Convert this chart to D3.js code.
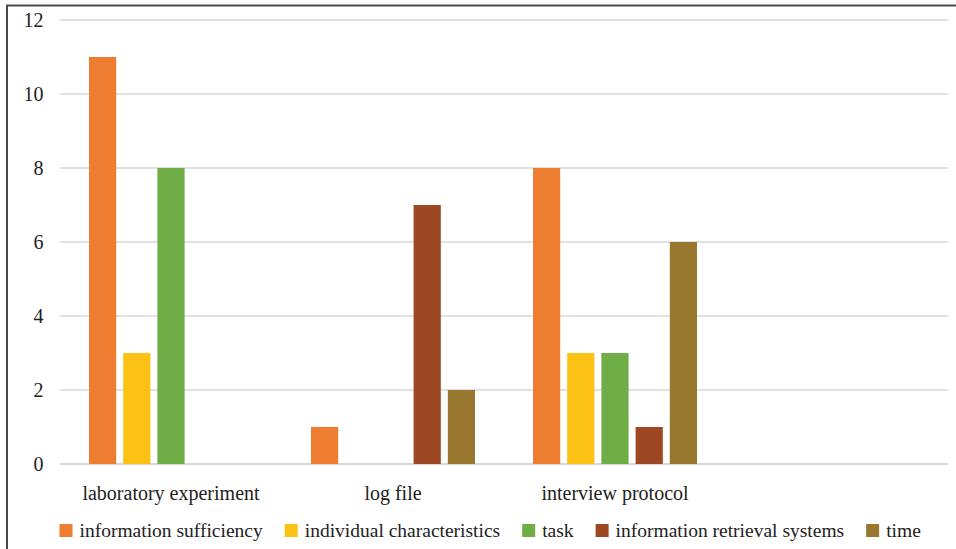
<!DOCTYPE html>
<html>
<head>
<meta charset="utf-8">
<script src="https://cdn.jsdelivr.net/npm/d3@7"></script>
<style>
  html, body { margin: 0; padding: 0; background: #fff; }
  svg { display: block; }
</style>
</head>
<body>
<svg id="chart" width="956" height="549"></svg>
<script>
// Categories (the fourth slot is intentionally empty)
const categories = ["laboratory experiment", "log file", "interview protocol", ""];
const seriesNames = ["information sufficiency", "individual characteristics", "task", "information retrieval systems", "time"];
const seriesColors = ["#ED7D31", "#FCC115", "#70AD47", "#9E4723", "#98772E"];

// Values per series, aligned with categories (null = no bar)
const informationSufficiency = [11, 1, 8, null];
const individualCharacteristics = [3, null, 3, null];
const task = [8, null, 3, null];
const informationRetrievalSystems = [null, 7, 1, null];
const time = [null, 2, 6, null];

const yTicks = [0, 2, 4, 6, 8, 10, 12];

const seriesValues = [informationSufficiency, individualCharacteristics, task, informationRetrievalSystems, time];

const FONT = "'Liberation Serif'";
const TEXT_COLOR = "#222";
const svg = d3.select("#chart");
const W = 956, H = 549;
const plot = { left: 60, right: 948, top: 20, bottom: 464 };

// Frame lines (left and top)
svg.append("line").attr("x1", 7).attr("x2", 7).attr("y1", 5).attr("y2", H)
  .attr("stroke", "#4a4a4a").attr("stroke-width", 2);
svg.append("line").attr("x1", 6).attr("x2", W).attr("y1", 5.5).attr("y2", 5.5)
  .attr("stroke", "#4a4a4a").attr("stroke-width", 2);

const y = d3.scaleLinear().domain([0, 12]).range([plot.bottom, plot.top]);
const x0 = d3.scaleBand().domain(categories.map((c, i) => i)).range([plot.left, plot.right]).paddingInner(0).paddingOuter(0);
const x1 = d3.scaleBand().domain(seriesNames).range([29, x0.bandwidth() - 29]).paddingInner(0.205);

// Gridlines
svg.append("g").selectAll("line").data(yTicks).join("line")
  .attr("x1", plot.left).attr("x2", plot.right)
  .attr("y1", d => y(d)).attr("y2", d => y(d))
  .attr("stroke", "#d9d9d9").attr("stroke-width", d => d === 0 ? 2 : 1.5);

// Y tick labels
svg.append("g").selectAll("text").data(yTicks).join("text")
  .attr("x", 43.5).attr("y", d => y(d)).attr("dy", "0.35em")
  .attr("text-anchor", "end").attr("font-size", 20).style("font-family", FONT).attr("fill", TEXT_COLOR)
  .text(d => d);

// Bars
const barData = [];
seriesValues.forEach((vals, si) => {
  vals.forEach((v, ci) => {
    if (v !== null && v !== undefined) barData.push({ ci, si, v });
  });
});
svg.append("g").selectAll("rect").data(barData).join("rect")
  .attr("x", d => x0(d.ci) + x1(seriesNames[d.si]))
  .attr("width", x1.bandwidth())
  .attr("y", d => y(d.v))
  .attr("height", d => y(0) - y(d.v))
  .attr("fill", d => seriesColors[d.si]);

// Category labels
svg.append("g").selectAll("text").data(categories).join("text")
  .attr("x", (d, i) => x0(i) + x0.bandwidth() / 2)
  .attr("y", 500).attr("text-anchor", "middle")
  .attr("font-size", 20).style("font-family", FONT).attr("fill", TEXT_COLOR)
  .text(d => d);

// Legend
const legend = svg.append("g");
let lx = 59.5;
seriesNames.forEach((name, i) => {
  legend.append("rect").attr("x", lx).attr("y", 524).attr("width", 13).attr("height", 13)
    .attr("fill", seriesColors[i]);
  const t = legend.append("text").attr("x", lx + 20).attr("y", 536.5)
    .attr("font-size", 19.5).style("font-family", FONT).attr("fill", TEXT_COLOR).text(name);
  lx += 20 + t.node().getComputedTextLength() + 22;
});
</script>
</body>
</html>
